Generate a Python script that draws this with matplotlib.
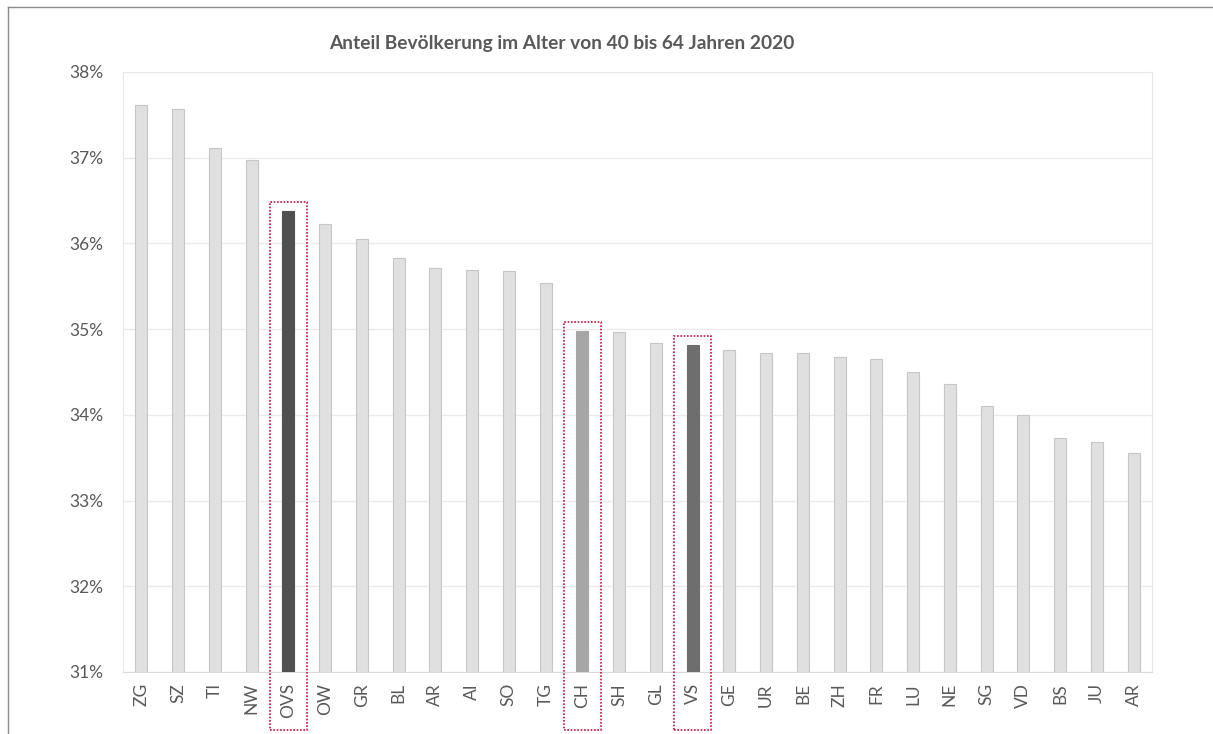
import matplotlib
matplotlib.use("Agg")
import matplotlib.pyplot as plt
from matplotlib.patches import Rectangle
from matplotlib.lines import Line2D
from matplotlib.ticker import FuncFormatter

plt.rcParams['font.family'] = ['Lato', 'DejaVu Sans']

# data
cantons = ["ZG", "SZ", "TI", "NW", "OVS", "OW", "GR", "BL", "AR", "AI", "SO", "TG", "CH", "SH",
           "GL", "VS", "GE", "UR", "BE", "ZH", "FR", "LU", "NE", "SG", "VD", "BS", "JU", "AR"]
shares = [37.61, 37.57, 37.11, 36.97, 36.38, 36.23, 36.05, 35.83, 35.71, 35.69, 35.68, 35.54, 34.98, 34.97,
          34.84, 34.82, 34.76, 34.72, 34.72, 34.67, 34.65, 34.50, 34.36, 34.10, 34.00, 33.73, 33.68, 33.55]
highlight_idx = [4, 12, 15]          # OVS, CH, VS
highlight_col = ["#505050", "#a6a6a6", "#6e6e6e"]
title = "Anteil Bevölkerung im Alter von 40 bis 64 Jahren 2020"

txt = "#595959"
fig = plt.figure(figsize=(12.13, 7.34), dpi=100)
ax = fig.add_axes([123 / 1213, 1 - 672 / 734, (1152 - 123) / 1213, 600 / 734])

x = list(range(len(cantons)))
colors = ["#e0e0e0"] * len(cantons)
edges = ["#c6c6c6"] * len(cantons)
for i, c in zip(highlight_idx, highlight_col):
    colors[i] = c
    edges[i] = c
ax.bar(x, shares, width=0.32, color=colors, edgecolor=edges, linewidth=0.8, zorder=3)

# dotted boxes around the highlighted bars
for i in highlight_idx:
    top = shares[i] + 0.1
    bottom = 30.32
    ax.add_patch(Rectangle((i - 0.5, bottom), 1.0, top - bottom, fill=False,
                           edgecolor="#c8103c", linestyle=(0, (1, 1)), linewidth=1.2,
                           clip_on=False, zorder=4))

ax.set_xlim(-0.5, len(cantons) - 0.5)
ax.set_ylim(31, 38)
ax.set_yticks(range(31, 39))
ax.yaxis.set_major_formatter(FuncFormatter(lambda v, p: f"{v:.0f}%"))
ax.set_xticks(x)
ax.set_xticklabels(cantons, rotation=90)
ax.tick_params(axis="y", length=0, pad=14, labelsize=12.5, labelcolor=txt)
ax.tick_params(axis="x", length=0, pad=8, labelsize=12.5, labelcolor=txt)
ax.grid(axis="y", color="#ebebeb", linewidth=1, zorder=0)
for side in ["left", "top", "right"]:
    ax.spines[side].set_color("#e8e8e8")
ax.spines["bottom"].set_color("#d9d9d9")

fig.text(562 / 1213, 1 - 44 / 734, title, ha="center", va="center",
         fontsize=13.8, fontweight="bold", color=txt)

# frame lines of the cropped image
fig.add_artist(Line2D([8 / 1213, 8 / 1213], [0, 1 - 7 / 734], color="#8c8c8c", linewidth=1))
fig.add_artist(Line2D([8 / 1213, 1], [1 - 7 / 734, 1 - 7 / 734], color="#8c8c8c", linewidth=1))

fig.savefig("out.png", dpi=100)
